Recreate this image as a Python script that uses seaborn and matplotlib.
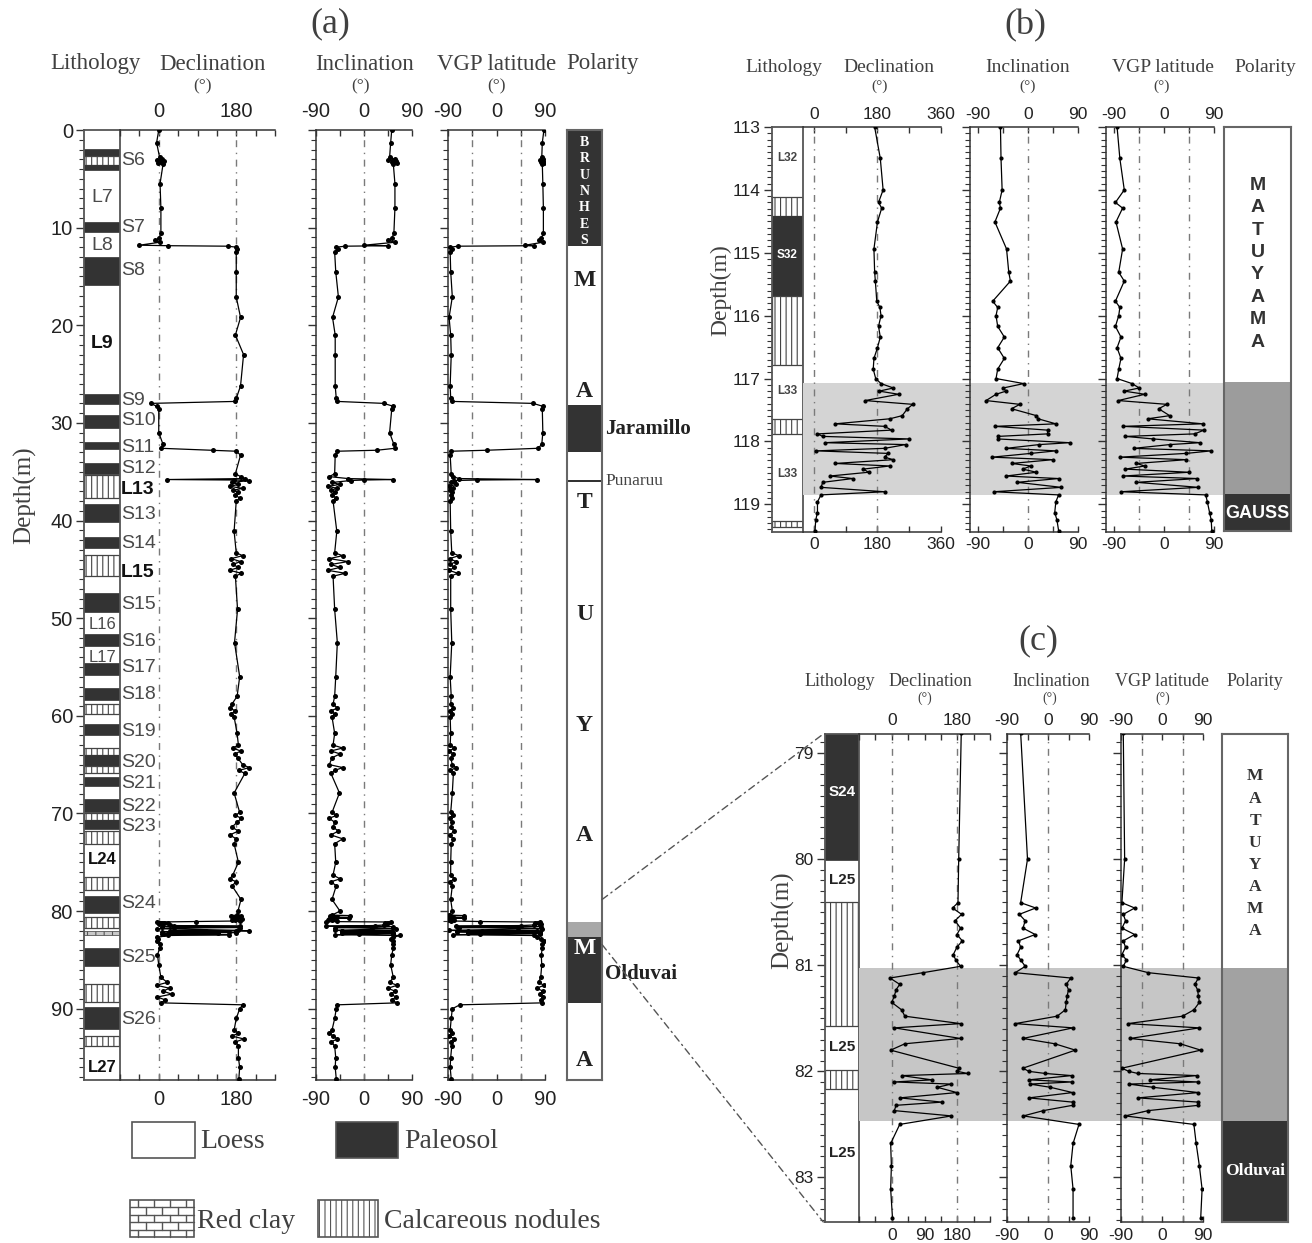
import numpy as np
import pandas as pd
import seaborn as sns
import matplotlib
matplotlib.use("Agg")
import matplotlib.pyplot as plt
from matplotlib.patches import Rectangle, ConnectionPatch
from matplotlib.transforms import blended_transform_factory as blend
from matplotlib.ticker import MultipleLocator, FormatStrFormatter, NullLocator

# ---------------------------------------------------------------- data
# (a) whole section, upper part (normal Brunhes down to just above the Olduvai)
a_depth = [0.0, 1.3, 2.8, 3.0, 3.1, 3.2, 3.3, 3.4, 3.5, 5.5,
           8.0, 10.6, 11.1, 11.3, 11.5, 11.8, 11.85, 11.9, 12.0, 12.2,
           12.5, 14.5, 17.1, 19.2, 21.0, 23.0, 26.2, 27.5, 27.8, 28.0,
           28.3, 28.6, 31.0, 32.2, 32.6, 32.8, 32.9, 33.3, 35.2, 35.5,
           35.7, 35.8, 35.85, 35.9, 36.1, 36.3, 36.5, 36.7, 36.9, 37.1,
           37.4, 37.7, 38.0, 41.1, 43.3, 43.6, 43.9, 44.2, 44.5, 44.8,
           45.1, 45.4, 45.7, 49.1, 52.5, 56.0, 58.0, 58.8, 59.2, 59.5,
           59.8, 60.1, 61.8, 63.0, 63.3, 63.6, 63.9, 64.3, 65.0, 65.3,
           65.6, 65.9, 67.9, 69.9, 70.2, 70.5, 70.9, 71.4, 71.8, 72.2,
           72.6, 73.1, 75.0, 76.3, 76.7, 77.0, 77.4]
a_dec = [0, -5, 2, 8, -3, 12, 5, -2, 10, 3,
         5, 5, 0, -8, 2, -45, 22, 160, 180, 182,
         180, 180, 180, 190, 178, 197, 190, 180, 178, -18,
         -5, 0, 0, 10, 5, 125, 180, 190, 178, 190,
         200, 18, 175, 210, 170, 185, 165, 195, 172, 185,
         178, 188, 180, 175, 180, 195, 168, 190, 172, 185,
         165, 192, 178, 183, 176, 188, 182, 170, 165, 178,
         168, 175, 182, 185, 172, 190, 178, 183, 195, 210,
         186, 200, 175, 188, 178, 192, 182, 170, 185, 165,
         180, 175, 185, 172, 165, 180, 170]
a_inc = [52, 50, 48, 58, 45, 60, 52, 62, 55, 58,
         58, 56, 52, 45, 58, 0, 45, -35, -52, -48,
         -55, -53, -48, -59, -54, -54, -54, -52, -50, 37,
         55, 52, 48, 56, 58, 24, -50, -54, -55, -65,
         -30, 54, 0, -25, -60, -45, -68, -50, -62, -55,
         -60, -52, -58, -51, -55, -40, -65, -30, -62, -45,
         -68, -35, -58, -55, -50, -53, -55, -58, -50, -62,
         -55, -60, -55, -58, -40, -62, -45, -60, -65, -40,
         -55, -62, -46, -60, -52, -65, -55, -58, -48, -62,
         -40, -55, -53, -58, -45, -62, -52]
a_vgp = [88, 85, 84, 87, 80, 86, 82, 88, 85, 86,
         87, 87, 83, 78, 86, 53, 70, -71, -86, -82,
         -86, -85, -82, -88, -85, -84, -86, -85, -82, 68,
         86, 85, 86, 84, 77, -18, -84, -86, -84, -80,
         -70, 75, -36, -78, -85, -75, -88, -80, -86, -82,
         -85, -83, -86, -85, -83, -70, -87, -75, -86, -78,
         -88, -72, -85, -85, -83, -86, -84, -85, -80, -87,
         -82, -86, -85, -86, -78, -88, -80, -85, -82, -75,
         -86, -80, -82, -85, -80, -87, -83, -85, -78, -87,
         -80, -84, -85, -85, -78, -87, -82]

# (a) lower part, below the detailed interval
a_low_depth = [83.8, 84.5, 85.5, 86.8, 87.3, 87.6, 87.9, 88.2, 88.5, 88.8,
               89.1, 89.4, 89.6, 90.0, 91.0, 92.2, 92.5, 92.8, 93.1, 93.4,
               93.8, 95.0, 96.0, 97.2]
a_low_dec = [2, -3, 0, 5, 20, -5, 25, 10, 30, -3,
             15, 5, 195, 188, 180, 175, 185, 170, 198, 178,
             185, 185, 188, 186]
a_low_inc = [55, 52, 50, 55, 48, 62, 45, 58, 50, 60,
             52, 62, -50, -52, -55, -60, -65, -58, -50, -62,
             -55, -53, -54, -52]
a_low_vgp = [85, 83, 84, 82, 78, 88, 75, 86, 80, 87,
             82, 85, -68, -82, -84, -86, -82, -88, -78, -85,
             -83, -85, -86, -84]

# (b) 113-119.4 m, Matuyama/Gauss boundary
b_depth = [113.00, 113.50, 114.00, 114.20, 114.29, 114.51, 114.94, 115.31, 115.45, 115.77,
           115.87, 116.00, 116.17, 116.34, 116.51, 116.68, 116.85, 117.00, 117.08, 117.15,
           117.20, 117.25, 117.35, 117.41, 117.48, 117.59, 117.64, 117.72, 117.76, 117.82,
           117.88, 117.92, 117.96, 118.02, 118.05, 118.11, 118.15, 118.19, 118.25, 118.29,
           118.35, 118.39, 118.44, 118.49, 118.55, 118.59, 118.65, 118.73, 118.80, 118.85,
           118.96, 119.13, 119.25, 119.42]
b_dec = [172, 188, 196, 183, 192, 180, 170, 172, 174, 178,
         187, 190, 183, 188, 180, 170, 168, 175, 190, 225,
         185, 240, 145, 280, 265, 250, 215, 60, 200, 220,
         10, 25, 270, 30, 260, 200, 5, 210, 200, 225,
         60, 215, 140, 155, 45, 110, 25, 20, 200, 20,
         10, 10, 5, 3]
b_inc = [-50, -49, -47, -52, -50, -60, -39, -35, -32, -64,
         -55, -58, -55, -43, -55, -43, -55, -58, -8, -45,
         -40, -58, -76, -15, -30, 15, 18, 50, -60, 35,
         35, -55, -55, 75, 20, -40, 50, 5, -65, 45,
         -30, 5, -10, 15, -40, 55, -20, 60, -62, 55,
         50, 48, 52, 55]
b_vgp = [-85, -80, -72, -88, -75, -87, -75, -82, -72, -88,
         -80, -82, -88, -78, -85, -78, -82, -85, -58, -45,
         -72, -35, -83, 5, -10, 10, -30, 70, -75, 72,
         55, -70, -20, 65, 10, -55, 85, 40, -80, 40,
         -50, -35, -70, 45, -75, 60, -50, 62, -78, 75,
         78, 82, 85, 86]

# (c) 78.8-83.4 m, Olduvai onset (detail of a)
c_depth = [78.81, 80.00, 80.41, 80.46, 80.52, 80.58, 80.65, 80.71, 80.77, 80.83,
           80.90, 80.95, 81.01, 81.07, 81.12, 81.18, 81.23, 81.29, 81.35, 81.42,
           81.48, 81.55, 81.59, 81.69, 81.74, 81.80, 81.97, 82.00, 82.02, 82.04,
           82.08, 82.10, 82.12, 82.15, 82.20, 82.25, 82.29, 82.32, 82.37, 82.42,
           82.50, 82.68, 82.89, 83.11, 83.38]
c_dec = [191, 184, 182, 167, 192, 174, 189, 179, 194, 179,
         169, 176, 189, 86, -5, 22, 12, 7, 0, 27,
         36, 189, 7, 189, 36, -3, 184, 180, 209, 27,
         110, 7, 164, 125, 179, 22, 138, 12, 7, 164,
         22, -3, -1, -3, 2]
c_inc = [-60, -45, -60, -27, -63, -50, -55, -28, -65, -60,
         -68, -60, -50, -72, 50, 40, 45, 42, 40, 38,
         20, -72, 55, -55, 15, 60, -55, -42, -6, 52,
         -42, 52, -40, 5, 54, -42, 54, 54, -10, -54,
         68, 55, 50, 55, 55]
c_vgp = [-85, -82, -88, -60, -85, -80, -88, -60, -85, -80,
         -88, -78, -85, -30, 80, 72, 78, 80, 82, 70,
         45, -75, 82, -70, 40, 85, -88, -73, -53, 76,
         -27, 80, -73, -20, 80, -53, 80, 80, -30, -81,
         70, 75, 82, 88, 85]

# lithology: top, base, kind (P paleosol, N calcareous nodules, R red clay)
a_lith_top = [1.9, 2.7, 3.6, 9.4, 13.0, 27.0, 29.2, 32.0, 34.1, 35.3, 38.3, 41.7, 43.5, 47.4,
              51.6, 54.6, 57.2, 58.8, 60.8, 63.3, 64.0, 65.1, 66.3, 68.5, 70.0, 70.7, 71.8,
              76.5, 78.5, 80.6, 82.0, 83.8, 87.5, 89.8, 92.8]
a_lith_base = [2.7, 3.6, 4.1, 10.4, 15.9, 28.1, 30.5, 32.7, 35.2, 37.7, 40.1, 42.8, 45.7, 49.4,
               52.8, 55.8, 58.4, 59.8, 62.0, 64.0, 65.1, 65.9, 67.2, 69.8, 70.7, 71.6, 73.1,
               77.8, 80.2, 81.7, 82.4, 85.6, 89.3, 92.1, 93.8]
a_lith_kind = ["P", "N", "P", "P", "P", "P", "P", "P", "P", "N", "P", "P", "N", "P",
               "P", "P", "P", "N", "P", "N", "P", "N", "P", "P", "N", "P", "N",
               "N", "P", "N", "R", "P", "N", "P", "N"]
a_unit_name = ["S6", "S7", "S8", "S9", "S10", "S11", "S12", "L13", "S13", "S14", "L15", "S15",
               "S16", "S17", "S18", "S19", "S20", "S21", "S22", "S23", "S24", "S25", "S26"]
a_unit_depth = [3.1, 10.0, 14.4, 27.7, 29.8, 32.5, 34.7, 36.8, 39.4, 42.3, 45.3, 48.6,
                52.4, 55.1, 57.8, 61.6, 64.8, 66.9, 69.3, 71.3, 79.2, 84.8, 91.1]
a_loess_name = ["L7", "L8", "L9", "L16", "L17", "L24", "L27"]
a_loess_depth = [6.9, 11.8, 21.9, 50.6, 54.0, 74.7, 96.0]

b_lith_top = [114.11, 114.41, 115.68, 117.64, 119.27]
b_lith_base = [114.41, 115.68, 116.78, 117.88, 119.36]
b_lith_kind = ["N", "P", "N", "N", "N"]
b_unit_name = ["L32", "S32", "L33", "L33"]
b_unit_depth = [113.5, 115.04, 117.19, 118.52]

c_lith_top = [78.0, 80.40, 81.99]
c_lith_base = [80.01, 81.57, 82.17]
c_lith_kind = ["P", "N", "N"]
c_unit_name = ["S24", "L25", "L25", "L25"]
c_unit_depth = [79.37, 80.20, 81.77, 82.77]

# polarity zones: top, base, kind (N normal, T transitional)
a_pol_top = [0.0, 28.2, 35.8, 81.1, 82.7]
a_pol_base = [11.9, 33.0, 36.1, 82.7, 89.4]
a_pol_kind = ["N", "N", "N", "T", "N"]
b_pol_top = [117.07, 118.85]
b_pol_base = [118.85, 120.0]
b_pol_kind = ["T", "N"]
c_pol_top = [81.03, 82.47]
c_pol_base = [82.47, 84.0]
c_pol_kind = ["T", "N"]
b_band = (117.07, 118.85)
c_band = (81.03, 82.47)

# ---------------------------------------------------------------- style
sns.set_theme(style="ticks")
SANS = ["Liberation Sans", "DejaVu Sans"]
SERIF = ["Liberation Serif", "DejaVu Serif"]
plt.rcParams["font.family"] = SANS
plt.rcParams["axes.unicode_minus"] = False
plt.rcParams["hatch.linewidth"] = 0.8

DARK = "#333333"
HEAD = "#404040"
W, H = 1312, 1243
fig = plt.figure(figsize=(W / 100, H / 100), dpi=100)
fig.patch.set_facecolor("white")


def px_axes(x0, y0, x1, y1):
    ax = fig.add_axes([x0 / W, 1 - y1 / H, (x1 - x0) / W, (y1 - y0) / H])
    ax.set_facecolor("none")
    return ax


def ftext(x, y, s, **kw):
    fig.text(x / W, 1 - y / H, s, **kw)


REF_LS = (0, (5, 4, 1, 4))


def data_panel(ax, depth, vals, xlim, ylim, ticks, top_lab, bot_lab, refs, left,
               fs, pad_t, pad_b, ymaj, ymin, ms):
    df = pd.DataFrame({"depth": depth, "value": vals})
    sns.lineplot(data=df, x="value", y="depth", sort=False, estimator=None, ax=ax,
                 color="black", lw=0.9, marker="o", markersize=ms,
                 markeredgewidth=0, zorder=3)
    for r in refs:
        ax.axvline(r, color="#7a7a7a", lw=1.0, ls=REF_LS, zorder=1)
    ax.set_xlim(*xlim)
    ax.set_ylim(*ylim)
    ax.set_xlabel("")
    ax.set_ylabel("")
    ax.set_xticks(ticks, labels=bot_lab)
    ax.xaxis.set_minor_locator(NullLocator())
    ax.tick_params(axis="x", which="major", direction="in", top=True, bottom=True,
                   length=4.5, width=1, color=DARK, labelsize=fs, pad=pad_b,
                   labelcolor="#222222")
    sec = ax.secondary_xaxis("top")
    sec.set_xticks(ticks, labels=top_lab)
    sec.tick_params(axis="x", length=0, labelsize=fs, pad=pad_t, labelcolor="#222222")
    for s in sec.spines.values():
        s.set_visible(False)
    ax.spines["right"].set_visible(False)
    ax.spines["left"].set_visible(left)
    for k in ("top", "bottom", "left"):
        ax.spines[k].set_color(DARK)
        ax.spines[k].set_linewidth(1.1)
    if left:
        ax.yaxis.set_major_locator(MultipleLocator(ymaj))
        ax.yaxis.set_minor_locator(MultipleLocator(ymin))
        ax.tick_params(axis="y", which="major", direction="out", left=True, length=6,
                       width=1, color=DARK, labelleft=False)
        ax.tick_params(axis="y", which="minor", direction="out", left=True, length=3.5,
                       width=0.8, color=DARK)
    else:
        ax.tick_params(axis="y", which="both", left=False, labelleft=False)


def lith_panel(ax, ylim, tops, bases, kinds, ymaj, ymin, fs):
    ax.set_xlim(0, 1)
    ax.set_ylim(*ylim)
    for t, b, k in zip(tops, bases, kinds):
        if k == "P":
            ax.axhspan(t, b, facecolor=DARK, edgecolor=DARK, lw=0.5)
        elif k == "N":
            ax.axhspan(t, b, facecolor="white", edgecolor="#444444", hatch="|||", lw=0.9)
        else:
            ax.axhspan(t, b, facecolor="#c8c8c8", edgecolor="#555555", hatch="++", lw=0.6)
    ax.set_xticks([])
    ax.yaxis.set_major_locator(MultipleLocator(ymaj))
    ax.yaxis.set_minor_locator(MultipleLocator(ymin))
    ax.yaxis.set_major_formatter(FormatStrFormatter("%d"))
    ax.tick_params(axis="y", which="major", direction="out", left=True, length=6, width=1,
                   color=DARK, labelsize=fs, pad=2, labelcolor="#222222")
    ax.tick_params(axis="y", which="minor", direction="out", left=True, length=3.5,
                   width=0.8, color=DARK)
    for s in ax.spines.values():
        s.set_color("#555555")
        s.set_linewidth(1.3)


def polarity_panel(ax, ylim, tops, bases, kinds, gray):
    ax.set_xlim(0, 1)
    ax.set_ylim(*ylim)
    for t, b, k in zip(tops, bases, kinds):
        ax.axhspan(t, b, facecolor=DARK if k == "N" else gray, lw=0)
    ax.set_xticks([])
    ax.set_yticks([])
    for s in ax.spines.values():
        s.set_color("#666666")
        s.set_linewidth(1.5)


def band(ax_lith, ax_dec, ax_pol, lim, color):
    x0 = ax_lith.get_position().x1
    x1 = ax_pol.get_position().x0
    tr = blend(fig.transFigure, ax_dec.transData)
    ax_dec.add_artist(Rectangle((x0, lim[0]), x1 - x0, lim[1] - lim[0], transform=tr,
                                facecolor=color, edgecolor="none", zorder=0, clip_on=False))


def headers(xs, y_head, y_deg, fs, fs_deg, deg_xs):
    names = ["Lithology", "Declination", "Inclination", "VGP latitude", "Polarity"]
    for x, n in zip(xs, names):
        ftext(x, y_head, n, ha="center", va="center", fontsize=fs, family=SERIF, color=HEAD)
    for x in deg_xs:
        ftext(x, y_deg, "(°)", ha="center", va="center", fontsize=fs_deg, family=SERIF,
              color=HEAD)


# ---------------------------------------------------------------- panel (a)
ylim_a = (97.3, 0)
axl_a = px_axes(84, 130, 120, 1080)
axd_a = px_axes(120, 130, 275, 1080)
axi_a = px_axes(316, 130, 412, 1080)
axv_a = px_axes(448, 130, 545, 1080)
axp_a = px_axes(567, 130, 602, 1080)

dep_a = a_depth + c_depth + a_low_depth
lith_panel(axl_a, ylim_a, a_lith_top, a_lith_base, a_lith_kind, 10, 1, 14.5)
data_panel(axd_a, dep_a, a_dec + c_dec + a_low_dec, (-90, 270), ylim_a,
           list(range(-90, 271, 45)), ["", "", "0", "", "", "", "180", "", ""],
           ["", "", "0", "", "", "", "180", "", ""], [0, 180], False, 14.5, 6.5, 7, 10, 1, 3.6)
data_panel(axi_a, dep_a, a_inc + c_inc + a_low_inc, (-90, 90), ylim_a,
           [-90, -45, 0, 45, 90], ["-90", "", "0", "", "90"], ["-90", "", "0", "", "90"],
           [0], True, 14.5, 6.5, 7, 10, 1, 3.6)
data_panel(axv_a, dep_a, a_vgp + c_vgp + a_low_vgp, (-90, 90), ylim_a,
           [-90, -45, 0, 45, 90], ["-90", "", "0", "", "90"], ["-90", "", "0", "", "90"],
           [-45, 45], True, 14.5, 6.5, 7, 10, 1, 3.6)
polarity_panel(axp_a, ylim_a, a_pol_top, a_pol_base, a_pol_kind, "#a8a8a8")

tr_la = blend(axl_a.transAxes, axl_a.transData)
for n, d in zip(a_unit_name, a_unit_depth):
    bold = n.startswith("L")
    axl_a.text(1.03, d, n, transform=tr_la, ha="left", va="center", fontsize=14,
               color="#111111" if bold else "#4a4a4a", fontweight="bold" if bold else "normal",
               clip_on=False, zorder=5)
for n, d in zip(a_loess_name, a_loess_depth):
    small = n in ("L16", "L17")
    bold = n in ("L9", "L24", "L27")
    axl_a.text(0.5, d, n, transform=tr_la, ha="center", va="center",
               fontsize=12 if (small or n in ("L24", "L27")) else 14,
               fontweight="bold" if bold else "normal",
               color="#111111" if bold else "#4a4a4a", zorder=5)

tr_pa = blend(axp_a.transAxes, axp_a.transData)
for i, ch in enumerate("BRUNHES"):
    axp_a.text(0.5, 1.3 + i * 1.67, ch, transform=tr_pa, ha="center", va="center",
               fontsize=10, family=SERIF, fontweight="bold", color="white")
for ch, d in zip("MATUYAMA", [15.4, 26.8, 38.2, 49.6, 61.0, 72.3, 83.8, 95.3]):
    axp_a.text(0.5, d, ch, transform=tr_pa, ha="center", va="center", fontsize=17,
               family=SERIF, fontweight="bold", color="white" if 82.7 < d < 89.4 else "#222222")
axp_a.text(1.1, 30.6, "Jaramillo", transform=tr_pa, ha="left", va="center", fontsize=15,
           family=SERIF, fontweight="bold", color="#222222", clip_on=False)
axp_a.text(1.1, 36.0, "Punaruu", transform=tr_pa, ha="left", va="center", fontsize=12.5,
           family=SERIF, color="#444444", clip_on=False)
axp_a.text(1.1, 86.4, "Olduvai", transform=tr_pa, ha="left", va="center", fontsize=15,
           family=SERIF, fontweight="bold", color="#222222", clip_on=False)

ftext(330, 24, "(a)", ha="center", va="center", fontsize=26, family=SERIF, color=HEAD)
headers([95, 212, 365, 497, 603], 64, 86, 16.5, 12.5, [203, 361, 497])
ftext(25, 495, "Depth(m)", ha="center", va="center", rotation=90, fontsize=18,
      family=SERIF, color=HEAD)

# ---------------------------------------------------------------- panel (b)
ylim_b = (119.44, 113)
axl_b = px_axes(772, 127, 803, 532)
axd_b = px_axes(803, 127, 941, 532)
axi_b = px_axes(970, 127, 1078, 532)
axv_b = px_axes(1106, 127, 1214, 532)
axp_b = px_axes(1224, 127, 1291, 531)

lith_panel(axl_b, ylim_b, b_lith_top, b_lith_base, b_lith_kind, 1, 0.1, 12.5)
data_panel(axd_b, b_depth, b_dec, (-31, 360), ylim_b, [0, 90, 180, 270, 360],
           ["0", "", "180", "", "360"], ["0", "", "180", "", "360"], [0, 180], False,
           12.5, 3.5, 3.5, 1, 0.1, 3)
data_panel(axi_b, b_depth, b_inc, (-105, 90), ylim_b, [-90, -45, 0, 45, 90],
           ["-90", "", "0", "", "90"], ["-90", "", "0", "", "90"], [0], True,
           12.5, 3.5, 3.5, 1, 0.1, 3)
data_panel(axv_b, b_depth, b_vgp, (-105, 90), ylim_b, [-90, -45, 0, 45, 90],
           ["-90", "", "0", "", "90"], ["-90", "", "0", "", "90"], [-45, 45], True,
           12.5, 3.5, 3.5, 1, 0.1, 3)
polarity_panel(axp_b, ylim_b, b_pol_top, b_pol_base, b_pol_kind, "#9c9c9c")
band(axl_b, axd_b, axp_b, b_band, "#d4d4d4")

tr_lb = blend(axl_b.transAxes, axl_b.transData)
for n, d in zip(b_unit_name, b_unit_depth):
    axl_b.text(0.5, d, n, transform=tr_lb, ha="center", va="center", fontsize=8.5,
               fontweight="bold", color="white" if n.startswith("S") else "#444444", zorder=5)
tr_pb = blend(axp_b.transAxes, axp_b.transData)
for i, ch in enumerate("MATUYAMA"):
    axp_b.text(0.5, 113.93 + i * 0.357, ch, transform=tr_pb, ha="center", va="center",
               fontsize=14, fontweight="bold", color="#333333")
axp_b.text(0.5, 119.16, "GAUSS", transform=tr_pb, ha="center", va="center", fontsize=13,
           fontweight="bold", color="white")

ftext(1025, 26, "(b)", ha="center", va="center", fontsize=26, family=SERIF, color=HEAD)
headers([784, 889, 1028, 1163, 1265], 67, 86, 14, 11, [880, 1028, 1162])
ftext(721, 290, "Depth(m)", ha="center", va="center", rotation=90, fontsize=17,
      family=SERIF, color=HEAD)

# ---------------------------------------------------------------- panel (c)
ylim_c = (83.42, 78.82)
axl_c = px_axes(825, 734, 859, 1222)
axd_c = px_axes(859, 734, 990, 1222)
axi_c = px_axes(1007, 734, 1089, 1222)
axv_c = px_axes(1121, 734, 1203, 1222)
axp_c = px_axes(1222, 734, 1288, 1222)

lith_panel(axl_c, ylim_c, c_lith_top, c_lith_base, c_lith_kind, 1, 0.1, 12.5)
data_panel(axd_c, c_depth, c_dec, (-90, 270), ylim_c, list(range(-90, 271, 45)),
           ["", "", "0", "", "", "", "180", "", ""],
           ["", "", "0", "", "90", "", "180", "", ""], [0, 180], False,
           12.5, 4.5, 4.5, 1, 0.1, 3)
data_panel(axi_c, c_depth, c_inc, (-90, 90), ylim_c, [-90, -45, 0, 45, 90],
           ["-90", "", "0", "", "90"], ["-90", "", "0", "", "90"], [0], True,
           12.5, 4.5, 4.5, 1, 0.1, 3)
data_panel(axv_c, c_depth, c_vgp, (-90, 90), ylim_c, [-90, -45, 0, 45, 90],
           ["-90", "", "0", "", "90"], ["-90", "", "0", "", "90"], [-45, 45], True,
           12.5, 4.5, 4.5, 1, 0.1, 3)
polarity_panel(axp_c, ylim_c, c_pol_top, c_pol_base, c_pol_kind, "#a2a2a2")
band(axl_c, axd_c, axp_c, c_band, "#c6c6c6")

tr_lc = blend(axl_c.transAxes, axl_c.transData)
for n, d in zip(c_unit_name, c_unit_depth):
    axl_c.text(0.5, d, n, transform=tr_lc, ha="center", va="center", fontsize=11,
               fontweight="bold", color="white" if n.startswith("S") else "#222222", zorder=5)
tr_pc = blend(axp_c.transAxes, axp_c.transData)
for i, ch in enumerate("MATUYAMA"):
    axp_c.text(0.5, 79.22 + i * 0.208, ch, transform=tr_pc, ha="center", va="center",
               fontsize=12.5, family=SERIF, fontweight="bold", color="#333333")
axp_c.text(0.5, 82.94, "Olduvai", transform=tr_pc, ha="center", va="center", fontsize=12.5,
           family=SERIF, fontweight="bold", color="white")

ftext(1038, 641, "(c)", ha="center", va="center", fontsize=26, family=SERIF, color=HEAD)
headers([840, 930, 1051, 1162, 1255], 681, 698, 13, 10, [925, 1050, 1163])
ftext(783, 920, "Depth(m)", ha="center", va="center", rotation=90, fontsize=18,
      family=SERIF, color=HEAD)

# zoom guides from (a) polarity column to (c)
tr_from = blend(axp_a.transAxes, axp_a.transData)
tr_to = blend(axl_c.transAxes, axl_c.transData)
for d in ylim_c:
    con = ConnectionPatch(xyA=(1.0, d), coordsA=tr_from, xyB=(-0.05, d), coordsB=tr_to,
                          color="#555555", lw=1.0, ls=(0, (5, 3, 1, 3)))
    fig.add_artist(con)

# ---------------------------------------------------------------- legend
lg = fig.add_axes([0, 0, 1, 1])
lg.set_xlim(0, W)
lg.set_ylim(H, 0)
lg.axis("off")
lg.set_facecolor("none")


def swatch(x, y, w, h, **kw):
    lg.add_patch(Rectangle((x, y), w, h, edgecolor="#555555", lw=1.2, **kw))


swatch(132, 1122, 63, 36, facecolor="white")
lg.text(200, 1141, "Loess", ha="left", va="center", fontsize=20, family=SERIF, color=HEAD)
swatch(336, 1122, 62, 36, facecolor=DARK)
lg.text(404, 1141, "Paleosol", ha="left", va="center", fontsize=20, family=SERIF, color=HEAD)

# brick symbol for red clay
bx0, by0, bw, bh = 130, 1200, 64, 37
swatch(bx0, by0, bw, bh, facecolor="white")
rows = 5
rh = bh / rows
for r in range(1, rows):
    lg.plot([bx0, bx0 + bw], [by0 + r * rh] * 2, color="#555555", lw=1.0)
for r in range(rows):
    off = 0 if r % 2 == 0 else 8
    for xv in np.arange(bx0 + 8 + off, bx0 + bw - 1, 16):
        lg.plot([xv, xv], [by0 + r * rh, by0 + (r + 1) * rh], color="#555555", lw=1.0)
lg.text(197, 1222, "Red clay", ha="left", va="center", fontsize=20, family=SERIF, color=HEAD)

swatch(318, 1200, 60, 37, facecolor="white", hatch="|||")
lg.text(384, 1222, "Calcareous nodules", ha="left", va="center", fontsize=20, family=SERIF,
        color=HEAD)

fig.savefig("out.png", dpi=100, facecolor="white")
